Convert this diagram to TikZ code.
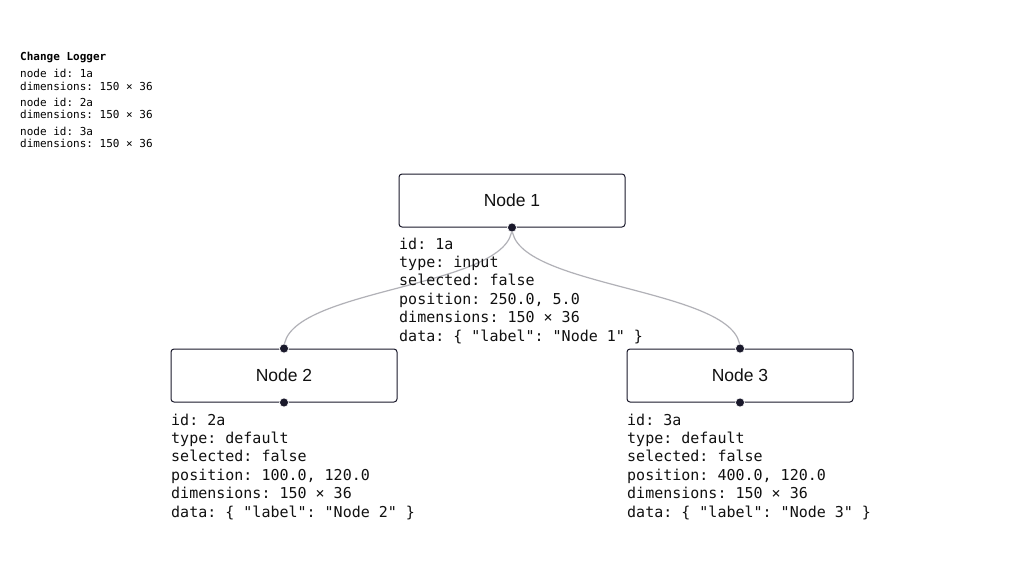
\documentclass[tikz,border=0pt]{standalone}
\usepackage{fontspec}
\newfontfamily\monofont{DejaVu Sans Mono}
\newfontfamily\labelfont{Liberation Sans}
\definecolor{ink}{HTML}{1A192B}
\definecolor{edgegray}{HTML}{B1B1B7}
\definecolor{txt}{HTML}{111111}
\frenchspacing
\begin{document}
\begin{tikzpicture}[x=1pt,y=-1pt,
  flowbox/.style={draw=ink, line width=1pt, rounded corners=3pt, fill=white,
    minimum width=226pt, minimum height=53pt, inner sep=0pt,
    font=\labelfont\fontsize{17.5}{20}\selectfont, text=txt},
  handle/.style={circle, fill=ink, draw=white, line width=0.6pt, inner sep=0pt, minimum size=9pt},
  edge/.style={draw=edgegray, line width=1.2pt},
  info/.style={anchor=north west, inner sep=0pt, align=left, text=txt,
    font=\monofont\frenchspacing\fontsize{15}{18.4}\selectfont},
  logger/.style={anchor=north west, inner sep=0pt, align=left, text=black,
    font=\monofont\frenchspacing\fontsize{11}{12.7}\selectfont}
]
\useasboundingbox (0,0) rectangle (1024,576);
\fill[white] (0,0) rectangle (1024,576);

% change log panel
\node[logger] (log) at (20,60-8.9) {\strut\textbf{Change Logger}\\[4.6pt]
  node id: 1a\\ dimensions: 150 × 36\\[3.4pt]
  node id: 2a\\ dimensions: 150 × 36\\[3.4pt]
  node id: 3a\\ dimensions: 150 × 36};

% flow nodes
\node[flowbox] (n1) at (512,200.5) {Node 1};
\node[flowbox] (n2) at (284,375.5) {Node 2};
\node[flowbox] (n3) at (740,375.5) {Node 3};

% edge connection handles
\node[handle] (h1s) at (n1.south) {};
\node[handle] (h2n) at (n2.north) {};
\node[handle] (h2s) at (n2.south) {};
\node[handle] (h3n) at (n3.north) {};
\node[handle] (h3s) at (n3.south) {};

% bezier edges
\draw[edge] (h1s.center) .. controls +(0,61) and +(0,-61) .. (h2n.center);
\draw[edge] (h1s.center) .. controls +(0,61) and +(0,-61) .. (h3n.center);
% redraw handles above edges
\node[handle] (h1t) at (h1s) {};
\node[handle] (h2t) at (h2n) {};
\node[handle] (h3t) at (h3n) {};

% node details
\node[info] (d1) at (399,249-12.9) {\strut id: 1a\\ type: input\\ selected: false\\
  position: 250.0, 5.0\\ dimensions: 150 × 36\\ data: \{ "label": "Node 1" \}};
\node[info] (d2) at (171,425-12.9) {\strut id: 2a\\ type: default\\ selected: false\\
  position: 100.0, 120.0\\ dimensions: 150 × 36\\ data: \{ "label": "Node 2" \}};
\node[info] (d3) at (627,425-12.9) {\strut id: 3a\\ type: default\\ selected: false\\
  position: 400.0, 120.0\\ dimensions: 150 × 36\\ data: \{ "label": "Node 3" \}};
\end{tikzpicture}
\end{document}
